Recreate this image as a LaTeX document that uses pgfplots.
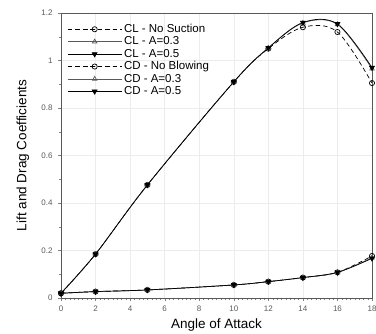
\documentclass[border=0pt]{standalone}
\usepackage{pgfplots}
\pgfplotsset{compat=1.18}
\usetikzlibrary{calc}
\usepackage{fontspec}
\setmainfont{Liberation Sans}
\begin{document}
\begin{tikzpicture}[x=1pt,y=1pt]
\begin{axis}[
  name=ax,
  scale only axis, width=311pt, height=285pt,
  xmin=0, xmax=18, ymin=0, ymax=1.2,
  xtick={0,2,...,18}, ytick={0,0.2,...,1.2},
  yticklabels={0,0.2,0.4,0.6,0.8,1,1.2},
  minor x tick num=7, minor y tick num=1,
  grid=major, major grid style={gray!15},
  tick align=outside, major tick length=3pt, minor tick length=2pt,
  xtick pos=bottom, ytick pos=left,
  tick label style={font=\fontsize{8}{9}\selectfont, text=gray!70!black},
  yticklabel style={xshift=-2pt},
  xticklabel style={yshift=-1pt},
  /pgf/number format/assume math mode=true,
  xlabel={Angle of Attack}, ylabel={Lift and Drag Coefficients},
  label style={font=\fontsize{13.5}{15}\selectfont},
  xlabel style={at={(axis description cs:0.5,0)}, anchor=center, yshift=-27pt},
  ylabel style={at={(axis description cs:0,0.5)}, anchor=center, yshift=38pt},
  axis line style={gray!70!black},
  legend style={at={(0.01,0.975)}, anchor=north west, draw=none, fill=none,
    font=\fontsize{11.5}{12}\selectfont, row sep=-1.2pt},
  legend cell align=left,
  legend image code/.code={\draw[mark repeat=2,mark phase=2,#1] plot coordinates {(0pt,0pt) (27pt,0pt) (54pt,0pt)};},
  every axis plot/.append style={smooth, tension=0.55, line width=0.7pt},
  mydash/.style={dash pattern=on 4.5pt off 3pt},
]
\addplot[black, mydash, mark=o, mark options={solid, fill=white, scale=1.3}] coordinates {
(0,0.02) (2,0.185) (5,0.476) (10,0.91) (12,1.05) (14,1.14) (16,1.12) (18,0.905)};
\addlegendentry{CL - No Suction}
\addplot[gray!70!black, mark=triangle, mark options={solid, scale=1.3}] coordinates {
(0,0.02) (2,0.185) (5,0.476) (10,0.91) (12,1.053) (14,1.158) (16,1.152) (18,0.965)};
\addlegendentry{CL - A=0.3}
\addplot[black, mark=triangle*, mark options={solid, rotate=180, scale=1.4}] coordinates {
(0,0.02) (2,0.185) (5,0.476) (10,0.91) (12,1.053) (14,1.16) (16,1.154) (18,0.97)};
\addlegendentry{CL - A=0.5}
\addplot[black, mydash, mark=o, mark options={solid, fill=white, scale=1.3}] coordinates {
(0,0.02) (2,0.027) (5,0.034) (10,0.055) (12,0.069) (14,0.086) (16,0.108) (18,0.177)};
\addlegendentry{CD - No Blowing}
\addplot[gray!70!black, mark=triangle, mark options={solid, scale=1.3}] coordinates {
(0,0.02) (2,0.027) (5,0.034) (10,0.055) (12,0.069) (14,0.086) (16,0.108) (18,0.17)};
\addlegendentry{CD - A=0.3}
\addplot[black, mark=triangle*, mark options={solid, rotate=180, scale=1.4}] coordinates {
(0,0.02) (2,0.027) (5,0.034) (10,0.055) (12,0.069) (14,0.086) (16,0.108) (18,0.167)};
\addlegendentry{CD - A=0.5}
\end{axis}
\pgfresetboundingbox
\path ($(ax.south west)+(-61pt,-35pt)$) rectangle ($(ax.north east)+(4pt,13pt)$);
\end{tikzpicture}
\end{document}
